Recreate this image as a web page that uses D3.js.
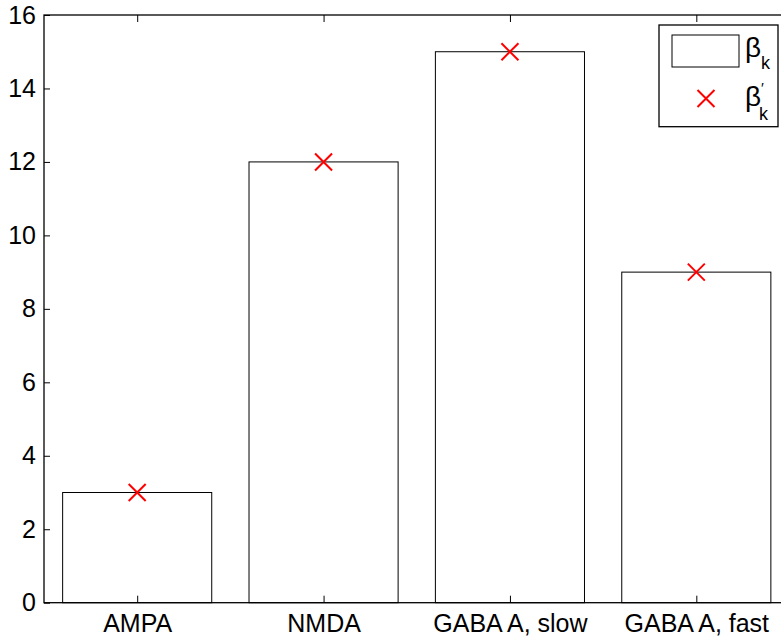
<!DOCTYPE html>
<html>
<head>
<meta charset="utf-8">
<script src="https://cdn.jsdelivr.net/npm/d3@7"></script>
<style>
  body { margin: 0; background: #fff; }
  text { font-family: "Liberation Sans", Arial, Helvetica, sans-serif; }
</style>
</head>
<body>
<svg id="chart" width="781" height="641"></svg>
<script>
// Receptor types and their coefficients
const categories = ["AMPA", "NMDA", "GABA A, slow", "GABA A, fast"];
const betaValues = [3, 12, 15, 9];        // β_k (bars)
const betaPrimeValues = [3, 12, 15, 9];   // β'_k (red crosses)
const yTicks = [0, 2, 4, 6, 8, 10, 12, 14, 16];

const svg = d3.select("#chart");
const margin = { left: 44, top: 15, bottom: 602.7 };
const plotRight = 789.5;
const labelSize = 25;

// Numeric x positions 1..4, axis spans 0.5..4.5
const x = d3.scaleLinear().domain([0.5, 4.5]).range([margin.left, plotRight]);
const y = d3.scaleLinear().domain([0, 16]).range([margin.bottom, margin.top]);
const barWidth = 0.8;

const g = svg.append("g");

// Bars
g.selectAll("rect.bar")
  .data(betaValues)
  .join("rect")
  .attr("class", "bar")
  .attr("x", (d, i) => x(i + 1 - barWidth / 2))
  .attr("width", (d, i) => x(i + 1 + barWidth / 2) - x(i + 1 - barWidth / 2))
  .attr("y", d => y(d))
  .attr("height", d => y(0) - y(d))
  .attr("fill", "#fff")
  .attr("stroke", "#000")
  .attr("stroke-width", 1);

// Cross markers
const cs = 8.5;
const crossPath = `M${-cs},${-cs}L${cs},${cs}M${-cs},${cs}L${cs},${-cs}`;
g.selectAll("path.cross")
  .data(betaPrimeValues)
  .join("path")
  .attr("class", "cross")
  .attr("transform", (d, i) => `translate(${x(i + 1)},${y(d)})`)
  .attr("d", crossPath)
  .attr("stroke", "#ff0000")
  .attr("stroke-width", 2)
  .attr("fill", "none");

// Box frame
g.append("rect")
  .attr("x", margin.left).attr("y", margin.top)
  .attr("width", plotRight - margin.left).attr("height", margin.bottom - margin.top)
  .attr("fill", "none").attr("stroke", "#000").attr("stroke-width", 1.3);

// Y axis (ticks inside)
const yAxis = d3.axisLeft(y).tickValues(yTicks).tickSize(-6).tickPadding(8);
const ya = g.append("g").attr("transform", `translate(${margin.left},0)`).call(yAxis);
ya.select(".domain").remove();
ya.selectAll("line").attr("stroke", "#000");
ya.selectAll("text").attr("font-size", labelSize).attr("fill", "#000")
  .attr("font-family", "'Liberation Sans', Arial, sans-serif");

// Right-side mirrored ticks
const yr = g.append("g").attr("transform", `translate(${plotRight},0)`)
  .call(d3.axisRight(y).tickValues(yTicks).tickSize(-6).tickFormat(""));
yr.select(".domain").remove();
yr.selectAll("line").attr("stroke", "#000");

// X axis (ticks inside)
const xAxis = d3.axisBottom(x).tickValues([1, 2, 3, 4])
  .tickFormat((d) => categories[d - 1]).tickSize(-7).tickPadding(12);
const xa = g.append("g").attr("transform", `translate(0,${margin.bottom})`).call(xAxis);
xa.select(".domain").remove();
xa.selectAll("line").attr("stroke", "#000");
xa.selectAll("text").attr("font-size", labelSize).attr("fill", "#000")
  .attr("font-family", "'Liberation Sans', Arial, sans-serif");

// Top mirrored ticks
const xt = g.append("g").attr("transform", `translate(0,${margin.top})`)
  .call(d3.axisTop(x).tickValues([1, 2, 3, 4]).tickSize(-7).tickFormat(""));
xt.select(".domain").remove();
xt.selectAll("line").attr("stroke", "#000");

// Legend
const leg = svg.append("g");
leg.append("rect")
  .attr("x", 659).attr("y", 25).attr("width", 119).attr("height", 101.7)
  .attr("fill", "#fff").attr("stroke", "#000").attr("stroke-width", 1.3);
leg.append("rect")
  .attr("x", 672).attr("y", 35).attr("width", 67).attr("height", 32)
  .attr("fill", "#fff").attr("stroke", "#000").attr("stroke-width", 1);
leg.append("path")
  .attr("transform", "translate(706,98.5)")
  .attr("d", crossPath)
  .attr("stroke", "#ff0000").attr("stroke-width", 2).attr("fill", "none");

const t1 = leg.append("text").attr("x", 745).attr("y", 57).attr("font-size", 28).attr("fill", "#000");
t1.append("tspan").text("β");
t1.append("tspan").attr("dy", 12).attr("font-size", 18).text("k");

const t2 = leg.append("text").attr("x", 745).attr("y", 106).attr("font-size", 28).attr("fill", "#000");
t2.append("tspan").text("β");
t2.append("tspan").attr("dx", 0).attr("dy", -13).attr("font-size", 15).text("′");
t2.append("tspan").attr("dx", -5).attr("dy", 27).attr("font-size", 18).text("k");
</script>
</body>
</html>
